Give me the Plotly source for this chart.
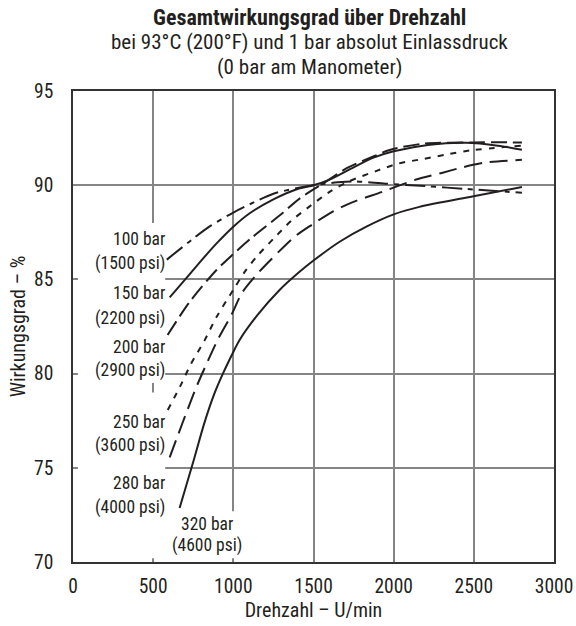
import plotly.graph_objects as go

# Gesamtwirkungsgrad (%) über Drehzahl (U/min) für sechs Betriebsdrücke
rpm_100 = [585, 740, 850, 1000, 1130, 1250, 1400, 1500, 1650, 1750, 1950, 2200, 2450, 2800]
eff_100 = [86.05, 87.1, 87.8, 88.55, 89.1, 89.55, 89.85, 90.0, 90.15, 90.2, 90.08, 89.95, 89.8, 89.6]

rpm_150 = [603, 700, 800, 900, 1000, 1100, 1250, 1400, 1500, 1600, 1750, 1870, 2000, 2225, 2450, 2650, 2800]
eff_150 = [84.05, 85.0, 86.0, 86.95, 87.8, 88.5, 89.25, 89.8, 90.0, 90.3, 90.95, 91.45, 91.8, 92.15, 92.25, 92.1, 91.88]

rpm_200 = [590, 727, 895, 1000, 1120, 1290, 1415, 1580, 1707, 1880, 1975, 2180, 2500, 2800]
eff_200 = [82.05, 83.8, 85.5, 86.35, 87.25, 88.4, 89.3, 90.2, 90.9, 91.55, 91.87, 92.2, 92.27, 92.27]

rpm_250 = [591, 670, 735, 820, 895, 1000, 1075, 1150, 1255, 1360, 1480, 1610, 1720, 1890, 2030, 2190, 2330, 2480, 2800]
eff_250 = [78.07, 79.35, 80.5, 81.75, 83.0, 84.45, 85.45, 86.25, 87.2, 88.1, 88.9, 89.7, 90.2, 90.75, 91.15, 91.4, 91.63, 91.85, 92.1]

rpm_280 = [603, 653, 715, 770, 840, 900, 990, 1055, 1150, 1240, 1380, 1490, 1620, 1745, 1930, 2140, 2300, 2430, 2570, 2800]
eff_280 = [75.55, 76.7, 78.1, 79.3, 80.65, 81.75, 83.15, 84.3, 85.3, 86.1, 87.25, 87.9, 88.6, 89.1, 89.65, 90.3, 90.65, 90.95, 91.2, 91.35]

rpm_320 = [665, 746, 820, 880, 935, 1000, 1040, 1150, 1290, 1413, 1500, 1663, 1830, 2000, 2160, 2490, 2800]
eff_320 = [72.87, 75.2, 77.4, 78.9, 80.0, 81.15, 81.8, 83.1, 84.45, 85.4, 86.0, 87.0, 87.8, 88.45, 88.85, 89.4, 89.9]

x_ticks = [0, 500, 1000, 1500, 2000, 2500, 3000]
y_ticks = [70, 75, 80, 85, 90, 95]

INK = "#231f20"
GRID = "#858585"
FONT = "Roboto Condensed, Liberation Sans Narrow, Arial Narrow, sans-serif"

series = [
    ("100 bar", rpm_100, eff_100, "20px,6px,5px,6px"),
    ("150 bar", rpm_150, eff_150, "solid"),
    ("200 bar", rpm_200, eff_200, "16px,6px"),
    ("250 bar", rpm_250, eff_250, "6px,7px"),
    ("280 bar", rpm_280, eff_280, "18px,8px"),
    ("320 bar", rpm_320, eff_320, "solid"),
]

fig = go.Figure()
for name, xs, ys, dash in series:
    fig.add_trace(go.Scatter(
        x=xs, y=ys, name=name, mode="lines",
        line=dict(color=INK, width=2, dash=dash, shape="spline", smoothing=0.8),
        showlegend=False,
    ))

# white panels behind the pressure labels so the grid does not run through them
for x0, x1, y0, y1 in [(31, 575, 79.5, 88.0), (31, 575, 70.2, 79.0), (590, 1080, 70.2, 72.7)]:
    fig.add_shape(type="rect", xref="x", yref="y", x0=x0, x1=x1, y0=y0, y1=y1,
                  fillcolor="white", line_width=0, layer="between")

# pressure labels at the start of each curve
labels = [
    ("100 bar", 87.14), ("(1500 psi)", 85.87),
    ("150 bar", 84.28), ("(2200 psi)", 82.95),
    ("200 bar", 81.41), ("(2900 psi)", 80.19),
    ("250 bar", 77.43), ("(3600 psi)", 76.21),
    ("280 bar", 74.19), ("(4000 psi)", 72.87),
]
for txt, yv in labels:
    fig.add_annotation(x=588, y=yv, xref="x", yref="y", text=txt, showarrow=False,
                       xanchor="right", yanchor="middle", font=dict(family=FONT, size=17.5, color=INK))
for txt, yv in [("320 bar", 72.0), ("(4600 psi)", 70.9)]:
    fig.add_annotation(x=833, y=yv, xref="x", yref="y", text=txt, showarrow=False,
                       xanchor="center", yanchor="middle", font=dict(family=FONT, size=17.5, color=INK))

# title block
title_lines = [
    ("<b>Gesamtwirkungsgrad über Drehzahl</b>", 1.157, 22),
    ("bei 93°C (200°F) und 1 bar absolut Einlassdruck", 1.104, 21),
    ("(0 bar am Manometer)", 1.051, 21),
]
for txt, yp, fs in title_lines:
    fig.add_annotation(x=0.4927, y=yp, xref="paper", yref="paper", text=txt, showarrow=False,
                       xanchor="center", yanchor="middle", font=dict(family=FONT, size=fs, color=INK))

fig.update_xaxes(
    range=[0, 3000], tickvals=x_ticks, ticktext=[str(v) for v in x_ticks],
    showgrid=True, gridcolor=GRID, gridwidth=1.5,
    showline=True, linecolor="#333333", linewidth=1.5, mirror=True,
    ticks="", zeroline=False, automargin=False,
    tickfont=dict(family=FONT, size=19.5, color=INK), ticklabelstandoff=6,
    title=dict(text="Drehzahl – U/min", font=dict(family=FONT, size=20, color=INK), standoff=5),
)
fig.update_yaxes(
    range=[70, 95], tickvals=y_ticks, ticktext=[str(v) for v in y_ticks],
    showgrid=True, gridcolor=GRID, gridwidth=1.5,
    showline=True, linecolor="#333333", linewidth=1.5, mirror=True,
    ticks="", zeroline=False, automargin=False,
    tickfont=dict(family=FONT, size=19.5, color=INK), ticklabelstandoff=14,
    title=dict(text="Wirkungsgrad – %", font=dict(family=FONT, size=20, color=INK), standoff=3),
)
fig.update_layout(
    width=576, height=626,
    margin=dict(l=73, r=22, t=91, b=64),
    paper_bgcolor="white", plot_bgcolor="white",
)
fig.write_html("out.html")
